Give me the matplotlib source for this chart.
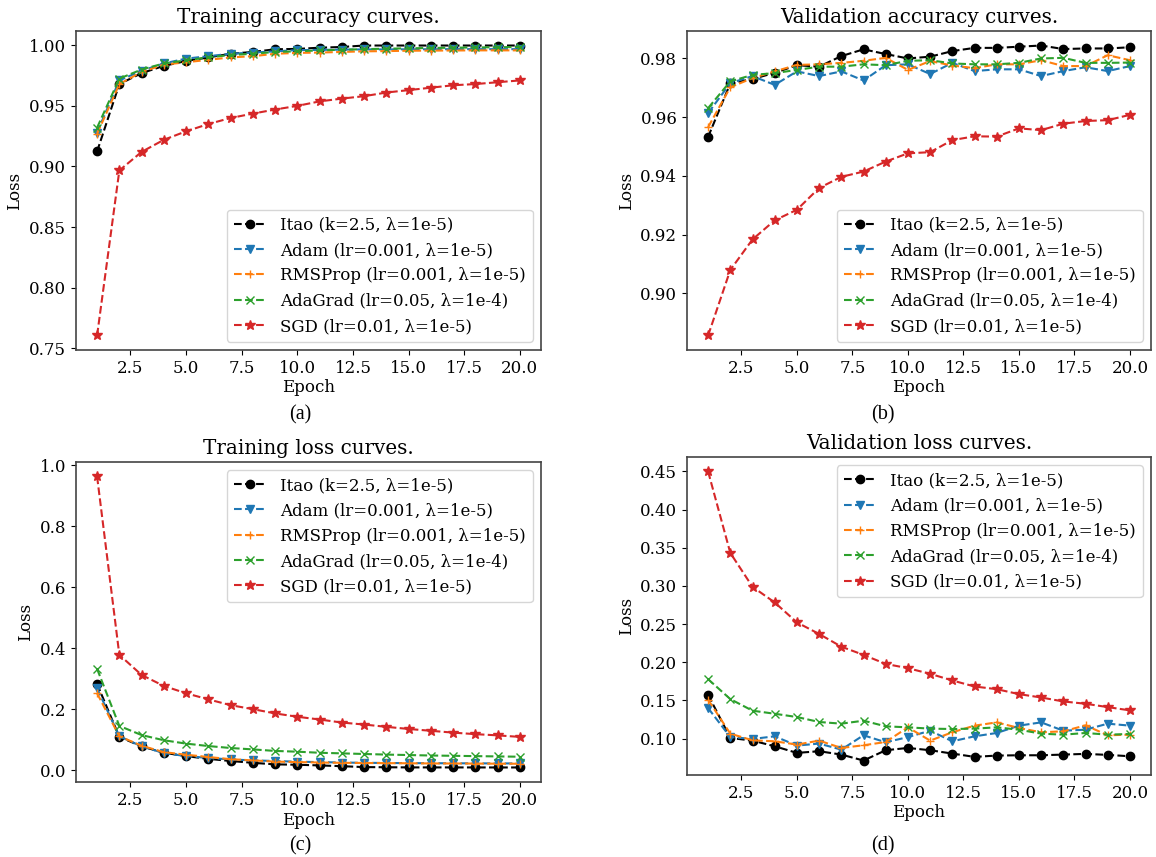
import matplotlib
matplotlib.use("Agg")
import matplotlib.pyplot as plt

plt.rcParams['font.family'] = ['DejaVu Serif']
plt.rcParams['mathtext.fontset'] = 'dejavuserif'

epochs = list(range(1, 21))

labels = ["Itao (k=2.5, λ=1e-5)",
          "Adam (lr=0.001, λ=1e-5)",
          "RMSProp (lr=0.001, λ=1e-5)",
          "AdaGrad (lr=0.05, λ=1e-4)",
          "SGD (lr=0.01, λ=1e-5)"]

# (a) Training accuracy
train_acc_itao = [0.9124, 0.968, 0.977, 0.983, 0.987, 0.990, 0.993, 0.9945, 0.9967, 0.997,
                  0.998, 0.9986, 0.9998, 0.9998, 0.9998, 0.9998, 0.9998, 0.9998, 0.9998, 0.9998]
train_acc_adam = [0.928, 0.971, 0.979, 0.985, 0.989, 0.991, 0.993, 0.994, 0.995, 0.996,
                  0.9962, 0.9964, 0.9966, 0.9966, 0.9967, 0.9967, 0.9968, 0.9968, 0.9968, 0.9968]
train_acc_rms = [0.927, 0.968, 0.978, 0.984, 0.986, 0.988, 0.990, 0.991, 0.993, 0.9937,
                 0.994, 0.9945, 0.995, 0.9952, 0.9955, 0.9956, 0.9957, 0.9958, 0.9958, 0.9958]
train_acc_ada = [0.932, 0.9725, 0.980, 0.985, 0.9876, 0.990, 0.992, 0.993, 0.9945, 0.995,
                 0.9958, 0.9963, 0.9968, 0.9972, 0.9975, 0.9978, 0.998, 0.9982, 0.9984, 0.9986]
train_acc_sgd = [0.7605, 0.8967, 0.912, 0.922, 0.929, 0.935, 0.940, 0.9436, 0.947, 0.950,
                 0.9537, 0.956, 0.958, 0.961, 0.963, 0.965, 0.967, 0.968, 0.9695, 0.971]

# (b) Validation accuracy
val_acc_itao = [0.9533, 0.9715, 0.973, 0.9751, 0.9777, 0.9772, 0.9808, 0.9831, 0.9815, 0.980,
                0.9806, 0.9825, 0.9836, 0.9836, 0.984, 0.9844, 0.9832, 0.9834, 0.9834, 0.9838]
val_acc_adam = [0.9614, 0.9716, 0.974, 0.971, 0.9756, 0.974, 0.9756, 0.9725, 0.9777, 0.978,
                0.9747, 0.9785, 0.9757, 0.9763, 0.9763, 0.974, 0.9757, 0.977, 0.9757, 0.9774]
val_acc_rms = [0.9566, 0.9702, 0.9733, 0.9756, 0.9778, 0.978, 0.9785, 0.9792, 0.9802, 0.9761,
               0.9791, 0.9776, 0.9767, 0.978, 0.978, 0.9794, 0.9774, 0.9774, 0.9811, 0.9794]
val_acc_ada = [0.9631, 0.9722, 0.9744, 0.975, 0.9761, 0.9772, 0.9772, 0.978, 0.9777, 0.9792,
               0.9794, 0.9783, 0.978, 0.978, 0.9785, 0.980, 0.9802, 0.9785, 0.9785, 0.9786]
val_acc_sgd = [0.8857, 0.908, 0.9184, 0.9249, 0.9285, 0.9359, 0.9397, 0.9415, 0.9449, 0.9477,
               0.9481, 0.9522, 0.9535, 0.9534, 0.9562, 0.9556, 0.9578, 0.9587, 0.959, 0.9608]

# (c) Training loss
train_loss_itao = [0.2835, 0.110, 0.079, 0.058, 0.047, 0.038, 0.031, 0.025, 0.020, 0.0187,
                   0.0165, 0.014, 0.011, 0.0105, 0.010, 0.010, 0.0099, 0.0099, 0.0098, 0.0098]
train_loss_adam = [0.269, 0.112, 0.079, 0.057, 0.047, 0.041, 0.036, 0.033, 0.031, 0.0286,
                   0.0275, 0.026, 0.025, 0.0245, 0.024, 0.0238, 0.0235, 0.0233, 0.0231, 0.023]
train_loss_rms = [0.253, 0.112, 0.081, 0.060, 0.0516, 0.044, 0.037, 0.033, 0.029, 0.0275,
                  0.026, 0.025, 0.0245, 0.024, 0.0235, 0.023, 0.0228, 0.0225, 0.0222, 0.022]
train_loss_ada = [0.333, 0.146, 0.116, 0.099, 0.088, 0.080, 0.0736, 0.069, 0.064, 0.0615,
                  0.058, 0.056, 0.054, 0.052, 0.0505, 0.049, 0.048, 0.047, 0.046, 0.045]
train_loss_sgd = [0.9637, 0.379, 0.313, 0.277, 0.253, 0.233, 0.214, 0.201, 0.187, 0.176,
                  0.167, 0.157, 0.1505, 0.143, 0.136, 0.130, 0.124, 0.119, 0.115, 0.110]

# (d) Validation loss
val_loss_itao = [0.1574, 0.1009, 0.0974, 0.090, 0.0813, 0.0835, 0.0791, 0.0713, 0.0848, 0.0878,
                 0.0848, 0.0804, 0.0761, 0.0778, 0.0782, 0.0782, 0.0791, 0.080, 0.0787, 0.0769]
val_loss_adam = [0.140, 0.102, 0.0996, 0.103, 0.0909, 0.0935, 0.0856, 0.1044, 0.0952, 0.102,
                 0.1104, 0.0965, 0.103, 0.1074, 0.117, 0.1213, 0.1104, 0.1117, 0.1196, 0.117]
val_loss_rms = [0.1509, 0.1065, 0.0978, 0.0965, 0.0922, 0.0974, 0.0878, 0.0913, 0.0956, 0.1148,
                0.0974, 0.1083, 0.117, 0.1213, 0.1139, 0.1083, 0.1096, 0.1174, 0.1044, 0.1052]
val_loss_ada = [0.1779, 0.1518, 0.1366, 0.1326, 0.1283, 0.1218, 0.1196, 0.1235, 0.1161, 0.1148,
                0.1131, 0.1126, 0.1131, 0.1148, 0.1117, 0.1065, 0.1052, 0.1074, 0.1052, 0.1061]
val_loss_sgd = [0.45, 0.3433, 0.2989, 0.2784, 0.2523, 0.2371, 0.2205, 0.2097, 0.1979, 0.1923,
                0.1849, 0.1762, 0.1683, 0.1648, 0.1583, 0.1539, 0.1487, 0.1457, 0.1413, 0.137]

titles = ["Training accuracy curves.", "Validation accuracy curves.",
          "Training loss curves.", "Validation loss curves."]
captions = ["(a)", "(b)", "(c)", "(d)"]

panels = [
    [train_acc_itao, train_acc_adam, train_acc_rms, train_acc_ada, train_acc_sgd],
    [val_acc_itao, val_acc_adam, val_acc_rms, val_acc_ada, val_acc_sgd],
    [train_loss_itao, train_loss_adam, train_loss_rms, train_loss_ada, train_loss_sgd],
    [val_loss_itao, val_loss_adam, val_loss_rms, val_loss_ada, val_loss_sgd],
]

colors = ['black', '#1f77b4', '#ff7f0e', '#2ca02c', '#d62728']
markers = ['o', 'v', '+', 'x', '*']
legend_locs = ['lower right', 'lower right', 'upper right', 'upper right']

# axes rectangles in figure fraction [left, bottom, width, height]
rects = [
    [0.0657, 0.5916, 0.4023, 0.3722],
    [0.5943, 0.5916, 0.4014, 0.3722],
    [0.0657, 0.0875, 0.4023, 0.3735],
    [0.5943, 0.0957, 0.4014, 0.3710],
]
caption_pos = [(0.260, 0.5157), (0.764, 0.5157), (0.260, 0.0128), (0.764, 0.0128)]

fig = plt.figure(figsize=(11.56, 8.57), dpi=100)
for i in range(4):
    ax = fig.add_axes(rects[i])
    for s in range(5):
        ax.plot(epochs, panels[i][s], linestyle='--', marker=markers[s], color=colors[s],
                label=labels[s], linewidth=1.5, markersize=6 if s != 4 else 7)
    ax.set_title(titles[i], fontsize=14.3)
    ax.set_xlabel('Epoch', fontsize=12, labelpad=2)
    ax.set_ylabel('Loss', fontsize=12)
    ax.tick_params(labelsize=12)
    for sp in ax.spines.values():
        sp.set_color('#444444')
        sp.set_linewidth(1.2)
    ax.legend(loc=legend_locs[i], fontsize=12, borderaxespad=0.5)
    fig.text(caption_pos[i][0], caption_pos[i][1], captions[i], ha='center', va='center',
             fontsize=14.5, family='Liberation Serif')

fig.savefig('out.png', dpi=100)
